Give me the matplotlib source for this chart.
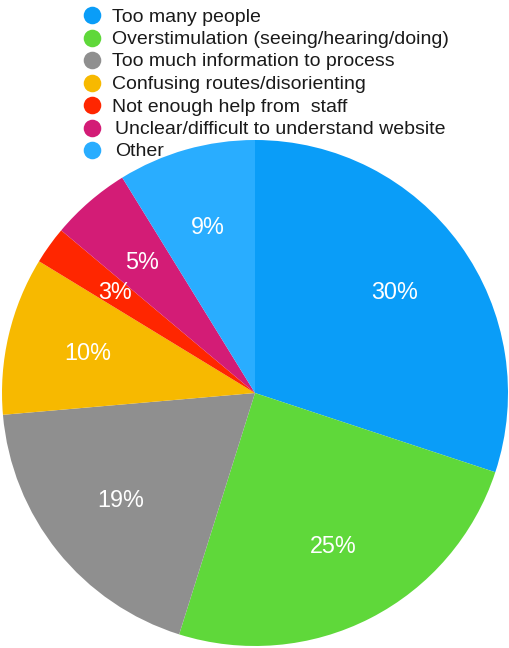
import matplotlib.pyplot as plt

plt.rcParams['font.family'] = ['Liberation Sans', 'DejaVu Sans']

# shares, labels as printed on the chart
categories = ['Too many people', 'Overstimulation (seeing/hearing/doing)',
              'Too much information to process', 'Confusing routes/disorienting',
              'Not enough help from  staff', 'Unclear/difficult to understand website',
              'Other']
values = [30.1, 24.8, 18.8, 10.1, 2.4, 5.1, 8.8]
pct_labels = ['30%', '25%', '19%', '10%', '3%', '5%', '9%']
colors = ['#0A9DF8', '#5FD83A', '#8F8F8F', '#F7B900', '#FF2600', '#D31C76', '#29ADFF']

W, H = 509, 648
fig = plt.figure(figsize=(W / 100, H / 100), dpi=100)

# pie: centre ~(255,393) px, radius ~253 px
cx, cy, r = 255, 393, 253
ax = fig.add_axes([(cx - r) / W, (H - cy - r) / H, 2 * r / W, 2 * r / H])
wedges, _, autotexts = ax.pie(values, colors=colors, startangle=90, counterclock=False,
                              autopct='%1.0f%%', pctdistance=0.68,
                              wedgeprops=dict(linewidth=0),
                              textprops=dict(color='white', fontsize=16.8))
for t, lab in zip(autotexts, pct_labels):
    t.set_text(lab)
ax.set_xlim(-1, 1)
ax.set_ylim(-1, 1)
ax.set_aspect('equal')

# legend drawn by hand in pixel coordinates (tight row spacing)
lax = fig.add_axes([0, 0, 1, 1])
lax.set_xlim(0, W)
lax.set_ylim(H, 0)
lax.axis('off')
for i, (name, c) in enumerate(zip(categories, colors)):
    y = 15 + i * 22.5
    lax.scatter([92], [y], s=160, color=c, linewidths=0)
    lax.text(112 if i < 5 else 115, y, name, fontsize=14, color='#1a1a1a',
             va='center_baseline', ha='left')

fig.savefig('out.png', dpi=100)
